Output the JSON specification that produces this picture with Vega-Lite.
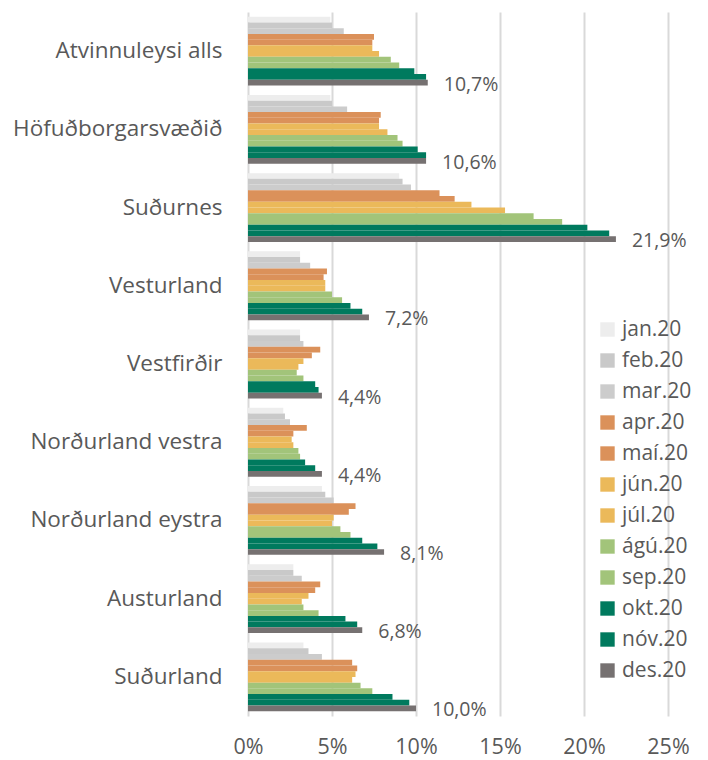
{
  "$schema": "https://vega.github.io/schema/vega-lite/v6.json",
  "width": 420,
  "height": 704,
  "autosize": {"type": "none"},
  "padding": {"left": 248, "top": 12, "right": 40, "bottom": 44},
  "config": {
    "view": {"stroke": null},
    "font": "Open Sans",
    "locale": {"number": {"decimal": ",", "thousands": ".", "grouping": [3], "currency": ["", " kr."]}}
  },
  "data": {
    "values": [
      {"region": "Atvinnuleysi alls", "month": "jan.20", "v": 0.049},
      {"region": "Atvinnuleysi alls", "month": "feb.20", "v": 0.050},
      {"region": "Atvinnuleysi alls", "month": "mar.20", "v": 0.057},
      {"region": "Atvinnuleysi alls", "month": "apr.20", "v": 0.075},
      {"region": "Atvinnuleysi alls", "month": "maí.20", "v": 0.074},
      {"region": "Atvinnuleysi alls", "month": "jún.20", "v": 0.074},
      {"region": "Atvinnuleysi alls", "month": "júl.20", "v": 0.078},
      {"region": "Atvinnuleysi alls", "month": "ágú.20", "v": 0.085},
      {"region": "Atvinnuleysi alls", "month": "sep.20", "v": 0.090},
      {"region": "Atvinnuleysi alls", "month": "okt.20", "v": 0.099},
      {"region": "Atvinnuleysi alls", "month": "nóv.20", "v": 0.106},
      {"region": "Atvinnuleysi alls", "month": "des.20", "v": 0.107},
      {"region": "Höfuðborgarsvæðið", "month": "jan.20", "v": 0.049},
      {"region": "Höfuðborgarsvæðið", "month": "feb.20", "v": 0.050},
      {"region": "Höfuðborgarsvæðið", "month": "mar.20", "v": 0.059},
      {"region": "Höfuðborgarsvæðið", "month": "apr.20", "v": 0.079},
      {"region": "Höfuðborgarsvæðið", "month": "maí.20", "v": 0.078},
      {"region": "Höfuðborgarsvæðið", "month": "jún.20", "v": 0.078},
      {"region": "Höfuðborgarsvæðið", "month": "júl.20", "v": 0.083},
      {"region": "Höfuðborgarsvæðið", "month": "ágú.20", "v": 0.089},
      {"region": "Höfuðborgarsvæðið", "month": "sep.20", "v": 0.092},
      {"region": "Höfuðborgarsvæðið", "month": "okt.20", "v": 0.101},
      {"region": "Höfuðborgarsvæðið", "month": "nóv.20", "v": 0.106},
      {"region": "Höfuðborgarsvæðið", "month": "des.20", "v": 0.106},
      {"region": "Suðurnes", "month": "jan.20", "v": 0.090},
      {"region": "Suðurnes", "month": "feb.20", "v": 0.092},
      {"region": "Suðurnes", "month": "mar.20", "v": 0.097},
      {"region": "Suðurnes", "month": "apr.20", "v": 0.114},
      {"region": "Suðurnes", "month": "maí.20", "v": 0.123},
      {"region": "Suðurnes", "month": "jún.20", "v": 0.133},
      {"region": "Suðurnes", "month": "júl.20", "v": 0.153},
      {"region": "Suðurnes", "month": "ágú.20", "v": 0.170},
      {"region": "Suðurnes", "month": "sep.20", "v": 0.187},
      {"region": "Suðurnes", "month": "okt.20", "v": 0.202},
      {"region": "Suðurnes", "month": "nóv.20", "v": 0.215},
      {"region": "Suðurnes", "month": "des.20", "v": 0.219},
      {"region": "Vesturland", "month": "jan.20", "v": 0.031},
      {"region": "Vesturland", "month": "feb.20", "v": 0.031},
      {"region": "Vesturland", "month": "mar.20", "v": 0.037},
      {"region": "Vesturland", "month": "apr.20", "v": 0.047},
      {"region": "Vesturland", "month": "maí.20", "v": 0.045},
      {"region": "Vesturland", "month": "jún.20", "v": 0.046},
      {"region": "Vesturland", "month": "júl.20", "v": 0.046},
      {"region": "Vesturland", "month": "ágú.20", "v": 0.050},
      {"region": "Vesturland", "month": "sep.20", "v": 0.056},
      {"region": "Vesturland", "month": "okt.20", "v": 0.061},
      {"region": "Vesturland", "month": "nóv.20", "v": 0.068},
      {"region": "Vesturland", "month": "des.20", "v": 0.072},
      {"region": "Vestfirðir", "month": "jan.20", "v": 0.031},
      {"region": "Vestfirðir", "month": "feb.20", "v": 0.031},
      {"region": "Vestfirðir", "month": "mar.20", "v": 0.033},
      {"region": "Vestfirðir", "month": "apr.20", "v": 0.043},
      {"region": "Vestfirðir", "month": "maí.20", "v": 0.038},
      {"region": "Vestfirðir", "month": "jún.20", "v": 0.033},
      {"region": "Vestfirðir", "month": "júl.20", "v": 0.030},
      {"region": "Vestfirðir", "month": "ágú.20", "v": 0.029},
      {"region": "Vestfirðir", "month": "sep.20", "v": 0.033},
      {"region": "Vestfirðir", "month": "okt.20", "v": 0.040},
      {"region": "Vestfirðir", "month": "nóv.20", "v": 0.042},
      {"region": "Vestfirðir", "month": "des.20", "v": 0.044},
      {"region": "Norðurland vestra", "month": "jan.20", "v": 0.021},
      {"region": "Norðurland vestra", "month": "feb.20", "v": 0.022},
      {"region": "Norðurland vestra", "month": "mar.20", "v": 0.025},
      {"region": "Norðurland vestra", "month": "apr.20", "v": 0.035},
      {"region": "Norðurland vestra", "month": "maí.20", "v": 0.027},
      {"region": "Norðurland vestra", "month": "jún.20", "v": 0.026},
      {"region": "Norðurland vestra", "month": "júl.20", "v": 0.027},
      {"region": "Norðurland vestra", "month": "ágú.20", "v": 0.030},
      {"region": "Norðurland vestra", "month": "sep.20", "v": 0.031},
      {"region": "Norðurland vestra", "month": "okt.20", "v": 0.034},
      {"region": "Norðurland vestra", "month": "nóv.20", "v": 0.040},
      {"region": "Norðurland vestra", "month": "des.20", "v": 0.044},
      {"region": "Norðurland eystra", "month": "jan.20", "v": 0.044},
      {"region": "Norðurland eystra", "month": "feb.20", "v": 0.046},
      {"region": "Norðurland eystra", "month": "mar.20", "v": 0.051},
      {"region": "Norðurland eystra", "month": "apr.20", "v": 0.064},
      {"region": "Norðurland eystra", "month": "maí.20", "v": 0.060},
      {"region": "Norðurland eystra", "month": "jún.20", "v": 0.051},
      {"region": "Norðurland eystra", "month": "júl.20", "v": 0.050},
      {"region": "Norðurland eystra", "month": "ágú.20", "v": 0.055},
      {"region": "Norðurland eystra", "month": "sep.20", "v": 0.061},
      {"region": "Norðurland eystra", "month": "okt.20", "v": 0.068},
      {"region": "Norðurland eystra", "month": "nóv.20", "v": 0.077},
      {"region": "Norðurland eystra", "month": "des.20", "v": 0.081},
      {"region": "Austurland", "month": "jan.20", "v": 0.027},
      {"region": "Austurland", "month": "feb.20", "v": 0.027},
      {"region": "Austurland", "month": "mar.20", "v": 0.032},
      {"region": "Austurland", "month": "apr.20", "v": 0.043},
      {"region": "Austurland", "month": "maí.20", "v": 0.040},
      {"region": "Austurland", "month": "jún.20", "v": 0.036},
      {"region": "Austurland", "month": "júl.20", "v": 0.032},
      {"region": "Austurland", "month": "ágú.20", "v": 0.033},
      {"region": "Austurland", "month": "sep.20", "v": 0.042},
      {"region": "Austurland", "month": "okt.20", "v": 0.058},
      {"region": "Austurland", "month": "nóv.20", "v": 0.065},
      {"region": "Austurland", "month": "des.20", "v": 0.068},
      {"region": "Suðurland", "month": "jan.20", "v": 0.033},
      {"region": "Suðurland", "month": "feb.20", "v": 0.036},
      {"region": "Suðurland", "month": "mar.20", "v": 0.044},
      {"region": "Suðurland", "month": "apr.20", "v": 0.062},
      {"region": "Suðurland", "month": "maí.20", "v": 0.065},
      {"region": "Suðurland", "month": "jún.20", "v": 0.064},
      {"region": "Suðurland", "month": "júl.20", "v": 0.062},
      {"region": "Suðurland", "month": "ágú.20", "v": 0.067},
      {"region": "Suðurland", "month": "sep.20", "v": 0.074},
      {"region": "Suðurland", "month": "okt.20", "v": 0.086},
      {"region": "Suðurland", "month": "nóv.20", "v": 0.096},
      {"region": "Suðurland", "month": "des.20", "v": 0.100}
    ]
  },
  "encoding": {
    "y": {
      "field": "region", "type": "nominal",
      "sort": ["Atvinnuleysi alls", "Höfuðborgarsvæðið", "Suðurnes", "Vesturland", "Vestfirðir", "Norðurland vestra", "Norðurland eystra", "Austurland", "Suðurland"],
      "scale": {"paddingInner": 0.12, "paddingOuter": 0.06},
      "axis": {"title": null, "domain": false, "ticks": false, "labelFontSize": 22.5, "labelColor": "#595959", "labelPadding": 26, "labelLimit": 260}
    },
    "yOffset": {
      "field": "month", "type": "nominal",
      "sort": ["jan.20", "feb.20", "mar.20", "apr.20", "maí.20", "jún.20", "júl.20", "ágú.20", "sep.20", "okt.20", "nóv.20", "des.20"]
    },
    "x": {
      "field": "v", "type": "quantitative",
      "scale": {"domain": [0, 0.25], "nice": false, "zero": true},
      "axis": {"title": null, "format": ".0%", "values": [0, 0.05, 0.1, 0.15, 0.2, 0.25], "labelFlush": false, "domain": false, "ticks": false, "grid": true, "gridColor": "#D9D9D9", "gridWidth": 2, "labelFontSize": 21.5, "labelColor": "#595959", "labelPadding": 20}
    }
  },
  "layer": [
    {
      "mark": {"type": "bar"},
      "encoding": {
        "color": {
          "field": "month", "type": "nominal",
          "scale": {
            "domain": ["jan.20", "feb.20", "mar.20", "apr.20", "maí.20", "jún.20", "júl.20", "ágú.20", "sep.20", "okt.20", "nóv.20", "des.20"],
            "range": ["#EDEDED", "#C9C9C9", "#CCCCCC", "#DB915A", "#DB915A", "#EBB95A", "#EBB95A", "#A2C47A", "#A2C47A", "#007A5E", "#007A5E", "#767171"]
          },
          "legend": {"title": null, "orient": "none", "legendX": 349, "legendY": 307, "symbolType": "square", "symbolSize": 207, "symbolStrokeWidth": 0, "labelFontSize": 21, "labelColor": "#595959", "rowPadding": 9, "labelOffset": 4}
        }
      }
    },
    {
      "transform": [{"filter": "datum.month == 'des.20'"}],
      "mark": {"type": "text", "align": "left", "baseline": "middle", "dx": 16, "dy": 2, "fontSize": 19.5, "color": "#595959"},
      "encoding": {
        "text": {"field": "v", "type": "quantitative", "format": ".1%"}
      }
    }
  ]
}
